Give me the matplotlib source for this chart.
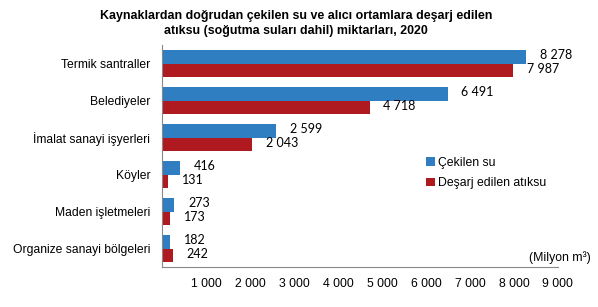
import numpy as np
import matplotlib.pyplot as plt

plt.rcParams['font.family'] = ['Liberation Sans', 'DejaVu Sans']

categories = ['Termik santraller', 'Belediyeler', 'İmalat sanayi işyerleri',
              'Köyler', 'Maden işletmeleri', 'Organize sanayi bölgeleri']
cekilen = [8278, 6491, 2599, 416, 273, 182]
desarj = [7987, 4718, 2043, 131, 173, 242]
xticks = [1000, 2000, 3000, 4000, 5000, 6000, 7000, 8000, 9000]


def fmt(v):
    # thousands separated with a space
    return '{:,}'.format(v).replace(',', ' ')


fig = plt.figure(figsize=(5.98, 3.07), dpi=100)
ax = fig.add_axes([0.271, 0.130, 0.662, 0.723])

y = np.arange(len(categories))
h = 0.37
ax.barh(y - h / 2, cekilen, height=h, color='#2E7EC1', label='Çekilen su')
ax.barh(y + h / 2, desarj, height=h, color='#AE1A1F', label='Deşarj edilen atıksu')

for i in range(len(categories)):
    ax.annotate(fmt(cekilen[i]), (cekilen[i], y[i] - h / 2), xytext=(10, 1),
                textcoords='offset points', va='center', ha='left', fontsize=9, family='Lato')
    ax.annotate(fmt(desarj[i]), (desarj[i], y[i] + h / 2), xytext=(10, 1),
                textcoords='offset points', va='center', ha='left', fontsize=9, family='Lato')

ax.set_xlim(0, 9000)
ax.set_ylim(len(categories) - 0.5, -0.5)
ax.set_yticks(y)
ax.set_yticklabels(categories, fontsize=8.7)
ax.set_xticks(xticks)
ax.set_xticklabels([fmt(v) for v in xticks], fontsize=8.8)
ax.tick_params(length=0, pad=8)
ax.tick_params(axis='y', pad=8.5)

for s in ['top', 'right']:
    ax.spines[s].set_visible(False)
ax.spines['left'].set_color('#888888')
ax.spines['bottom'].set_color('#888888')

fig.suptitle('Kaynaklardan doğrudan çekilen su ve alıcı ortamlara deşarj edilen\n'
             'atıksu (soğutma suları dahil) miktarları, 2020',
             x=0.495, y=0.968, fontsize=8.9, fontweight='bold', linespacing=1.3)

ax.legend(loc='upper left', bbox_to_anchor=(0.655, 0.52), frameon=False, fontsize=8.8,
          handlelength=0.7, handleheight=0.7, handletextpad=0.3, labelspacing=0.7,
          borderaxespad=0)

fig.text(0.988, 0.16, '(Milyon m³)', ha='right', va='center', fontsize=8.8)

fig.savefig('out.png', dpi=100)
